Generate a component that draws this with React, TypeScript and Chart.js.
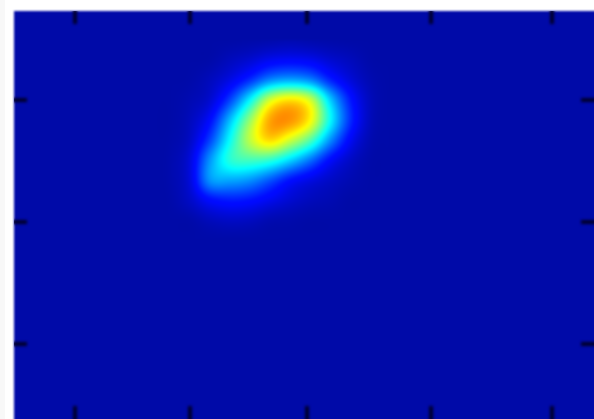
import React, { useEffect, useRef } from "react";
import { Chart, registerables } from "chart.js";

Chart.register(...registerables);

// Axis ticks, in the picture's own data units
const xTicks = [61, 176, 293, 417, 538];
const yTicks = [89, 211, 333];

// Grid positions of the sampled surface
const gridX = [136, 156, 176, 196, 216, 236, 256, 276, 296, 316, 336, 356, 376];
const gridY = [29, 49, 69, 89, 109, 129, 149, 169, 189, 209, 229];

// Surface values, one row per gridY entry
const row0 = [0.04, 0.04, 0.04, 0.04, 0.04, 0.042, 0.045, 0.05, 0.045, 0.042, 0.04, 0.04, 0.04];
const row1 = [0.04, 0.04, 0.04, 0.042, 0.06, 0.08, 0.11, 0.12, 0.11, 0.08, 0.06, 0.042, 0.04];
const row2 = [0.04, 0.04, 0.042, 0.06, 0.10, 0.17, 0.26, 0.29, 0.26, 0.16, 0.09, 0.05, 0.04];
const row3 = [0.04, 0.04, 0.05, 0.08, 0.19, 0.37, 0.58, 0.65, 0.58, 0.33, 0.15, 0.06, 0.04];
const row4 = [0.04, 0.04, 0.06, 0.13, 0.31, 0.52, 0.71, 0.73, 0.63, 0.38, 0.17, 0.06, 0.04];
const row5 = [0.04, 0.042, 0.07, 0.19, 0.38, 0.56, 0.66, 0.58, 0.46, 0.27, 0.12, 0.05, 0.04];
const row6 = [0.04, 0.045, 0.09, 0.27, 0.41, 0.44, 0.42, 0.34, 0.24, 0.13, 0.07, 0.042, 0.04];
const row7 = [0.04, 0.045, 0.09, 0.27, 0.29, 0.27, 0.21, 0.14, 0.10, 0.07, 0.05, 0.04, 0.04];
const row8 = [0.04, 0.042, 0.07, 0.13, 0.15, 0.14, 0.11, 0.08, 0.06, 0.05, 0.04, 0.04, 0.04];
const row9 = [0.04, 0.04, 0.042, 0.06, 0.07, 0.065, 0.05, 0.045, 0.04, 0.04, 0.04, 0.04, 0.04];
const row10 = [0.04, 0.04, 0.04, 0.04, 0.04, 0.04, 0.04, 0.04, 0.04, 0.04, 0.04, 0.04, 0.04];
const rows = [row0, row1, row2, row3, row4, row5, row6, row7, row8, row9, row10];

const backgroundValue = 0.04;

function jet(v: number): [number, number, number] {
  const c = (t: number) => Math.max(0, Math.min(1, t));
  const r = c(Math.min(4 * v - 1.5, -4 * v + 4.5));
  const g = c(Math.min(4 * v - 0.5, -4 * v + 3.5));
  const b = c(Math.min(4 * v + 0.5, -4 * v + 2.5));
  return [r * 255, Math.max(g * 255, 10), b * 255];
}

function cubic(a: number, b: number, c: number, d: number, t: number) {
  return (
    b +
    0.5 * t * (c - a + t * (2 * a - 5 * b + 4 * c - d + t * (3 * (b - c) + d - a)))
  );
}

function locate(axis: number[], value: number): [number, number] | null {
  if (value < axis[0] || value >= axis[axis.length - 1]) return null;
  for (let i = 0; i < axis.length - 1; i++) {
    if (value < axis[i + 1]) return [i, (value - axis[i]) / (axis[i + 1] - axis[i])];
  }
  return null;
}

function sample(x: number, y: number) {
  const lx = locate(gridX, x);
  const ly = locate(gridY, y);
  if (!lx || !ly) return backgroundValue;
  const at = (r: number, c: number) =>
    rows[Math.max(0, Math.min(rows.length - 1, r))][Math.max(0, Math.min(gridX.length - 1, c))];
  const across = [-1, 0, 1, 2].map((dr) =>
    cubic(
      at(ly[0] + dr, lx[0] - 1),
      at(ly[0] + dr, lx[0]),
      at(ly[0] + dr, lx[0] + 1),
      at(ly[0] + dr, lx[0] + 2),
      lx[1]
    )
  );
  return cubic(across[0], across[1], across[2], across[3], ly[1]);
}

const heatPlugin = {
  id: "heat",
  beforeDatasetsDraw(chart: any) {
    const { ctx, chartArea, scales } = chart;
    const sx = scales.x;
    const sy = scales.y;
    const w = Math.ceil(chartArea.right - chartArea.left);
    const h = Math.ceil(chartArea.bottom - chartArea.top);
    const off = document.createElement("canvas");
    off.width = w + 20;
    off.height = h + 20;
    const octx = off.getContext("2d")!;
    const img = octx.createImageData(w + 20, h + 20);
    for (let j = 0; j < h + 20; j++) {
      const vy = sy.getValueForPixel(chartArea.top + j + 0.5);
      for (let i = 0; i < w + 20; i++) {
        const vx = sx.getValueForPixel(chartArea.left + i + 0.5);
        const [r, g, b] = jet(sample(vx, vy));
        const k = (j * (w + 20) + i) * 4;
        img.data[k] = r;
        img.data[k + 1] = g;
        img.data[k + 2] = b;
        img.data[k + 3] = 255;
      }
    }
    octx.putImageData(img, 0, 0);
    ctx.save();
    ctx.fillStyle = "#f8f8f8";
    ctx.fillRect(0, 0, 5, chart.height);
    ctx.filter = "blur(1.1px)";
    ctx.drawImage(off, chartArea.left, chartArea.top);
    ctx.filter = "blur(1.7px)";
    ctx.fillStyle = "#00002c";
    const tickLen = 13;
    const tickW = 4;
    ctx.beginPath();
    ctx.rect(chartArea.left, chartArea.top, chartArea.right - chartArea.left + 20, chartArea.bottom - chartArea.top + 20);
    ctx.clip();
    for (const t of xTicks) {
      const p = sx.getPixelForValue(t);
      ctx.fillRect(p - tickW / 2, chartArea.top - 2, tickW, tickLen + 2);
      ctx.fillRect(p - tickW / 2, chartArea.bottom - tickLen, tickW, tickLen + 6);
    }
    for (const t of yTicks) {
      const p = sy.getPixelForValue(t);
      ctx.fillRect(chartArea.left - 2, p - tickW / 2, tickLen + 2, tickW);
      ctx.fillRect(chartArea.right - tickLen, p - tickW / 2, tickLen + 6, tickW);
    }
    ctx.restore();
  },
};

export default function App() {
  const ref = useRef<HTMLCanvasElement>(null);
  useEffect(() => {
    const chart = new Chart(ref.current!, {
      type: "scatter",
      data: {
        datasets: [
          {
            data: gridY.flatMap((y, r) => gridX.map((x, c) => ({ x, y, v: rows[r][c] }))) as any,
            pointRadius: 0,
          },
        ],
      },
      options: {
        animation: false,
        responsive: false,
        devicePixelRatio: 1,
        layout: { padding: { left: 14, top: 11, right: 0, bottom: 0 } },
        plugins: { legend: { display: false }, tooltip: { enabled: false } },
        scales: {
          x: { type: "linear", min: 0, max: 580, display: false },
          y: { type: "linear", min: 0, max: 408, reverse: true, display: false },
        },
      },
      plugins: [heatPlugin],
    });
    return () => chart.destroy();
  }, []);
  return (
    <canvas
      ref={ref}
      width={594}
      height={419}
      style={{ position: "fixed", left: 0, top: 0, width: 594, height: 419, background: "#fff" }}
    />
  );
}
